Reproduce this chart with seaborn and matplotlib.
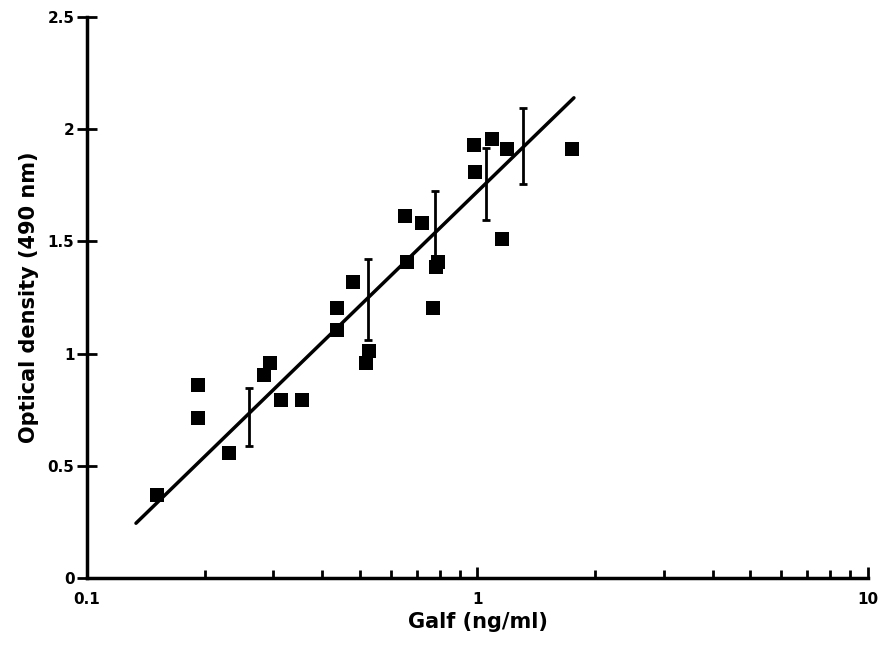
import numpy as np
import pandas as pd
import matplotlib
matplotlib.use("Agg")
import matplotlib.pyplot as plt
import seaborn as sns
from matplotlib.ticker import LogLocator, FixedLocator, NullFormatter

# measured points
galf = [0.151, 0.192, 0.192, 0.231, 0.284, 0.294, 0.314, 0.355,
        0.438, 0.438, 0.479, 0.518, 0.528, 0.652, 0.661, 0.719,
        0.770, 0.791, 0.781, 0.980, 0.986, 1.087, 1.188, 1.153, 1.742]
od = [0.37, 0.86, 0.713, 0.557, 0.906, 0.958, 0.791, 0.791,
      1.107, 1.205, 1.318, 0.96, 1.01, 1.612, 1.408, 1.58,
      1.204, 1.408, 1.388, 1.929, 1.808, 1.958, 1.911, 1.509, 1.911]

# mean +/- sd bars
bar_x = [0.260, 0.523, 0.778, 1.05, 1.31]
bar_y = [0.717, 1.24, 1.555, 1.757, 1.925]
bar_err = [0.13, 0.18, 0.17, 0.16, 0.17]

# fitted line
fit_x = [0.1335, 1.766]
fit_y = [0.244, 2.14]

sns.set_style("white", {'xtick.bottom': True, 'ytick.left': True,
                        'text.color': 'black', 'axes.labelcolor': 'black',
                        'xtick.color': 'black', 'ytick.color': 'black'})
plt.rcParams['font.family'] = ['DejaVu Sans']

fig = plt.figure(figsize=(8.83, 6.45), dpi=100)
ax = fig.add_axes([0.0985, 0.1039, 0.8845, 0.8697])

df = pd.DataFrame({'galf': galf, 'od': od})
sns.scatterplot(data=df, x='galf', y='od', marker='s', s=100, color='black',
                edgecolor='black', linewidth=0, ax=ax, zorder=3)
sns.lineplot(x=fit_x, y=fit_y, color='black', lw=2.5, ax=ax, zorder=2)
ax.errorbar(bar_x, bar_y, yerr=bar_err, fmt='none', ecolor='black',
            elinewidth=2, capsize=3, capthick=2, zorder=2)

ax.set_xscale('log')
ax.set_xlim(0.1, 10)
ax.set_ylim(0, 2.5)

ax.xaxis.set_major_locator(FixedLocator([0.1, 1, 10]))
ax.xaxis.set_minor_locator(LogLocator(base=10, subs=np.arange(2, 10)))
ax.xaxis.set_minor_formatter(NullFormatter())
ax.set_xticks([0.1, 1, 10])
ax.set_xticklabels(['0.1', '1', '10'])
ax.set_yticks([0, 0.5, 1, 1.5, 2, 2.5])
ax.set_yticklabels(['0', '0.5', '1', '1.5', '2', '2.5'])

for sp in ['top', 'right']:
    ax.spines[sp].set_visible(False)
for sp in ['left', 'bottom']:
    ax.spines[sp].set_linewidth(2.5)
    ax.spines[sp].set_color('black')

ax.tick_params(axis='x', which='major', bottom=True, direction='in', length=8,
               width=2, labelsize=11, pad=10, colors='black')
ax.tick_params(axis='x', which='minor', bottom=True, direction='in', length=6,
               width=2, colors='black')
ax.tick_params(axis='y', which='major', left=True, direction='inout', length=14,
               width=2, labelsize=11, pad=2, colors='black')
for lab in ax.get_xticklabels() + ax.get_yticklabels():
    lab.set_fontweight('bold')

ax.set_xlabel('Galf (ng/ml)', fontsize=15, fontweight='bold', labelpad=4,
              color='black')
ax.set_ylabel('Optical density (490 nm)', fontsize=15, fontweight='bold',
              labelpad=6, color='black')

fig.savefig('out.png', dpi=100)
